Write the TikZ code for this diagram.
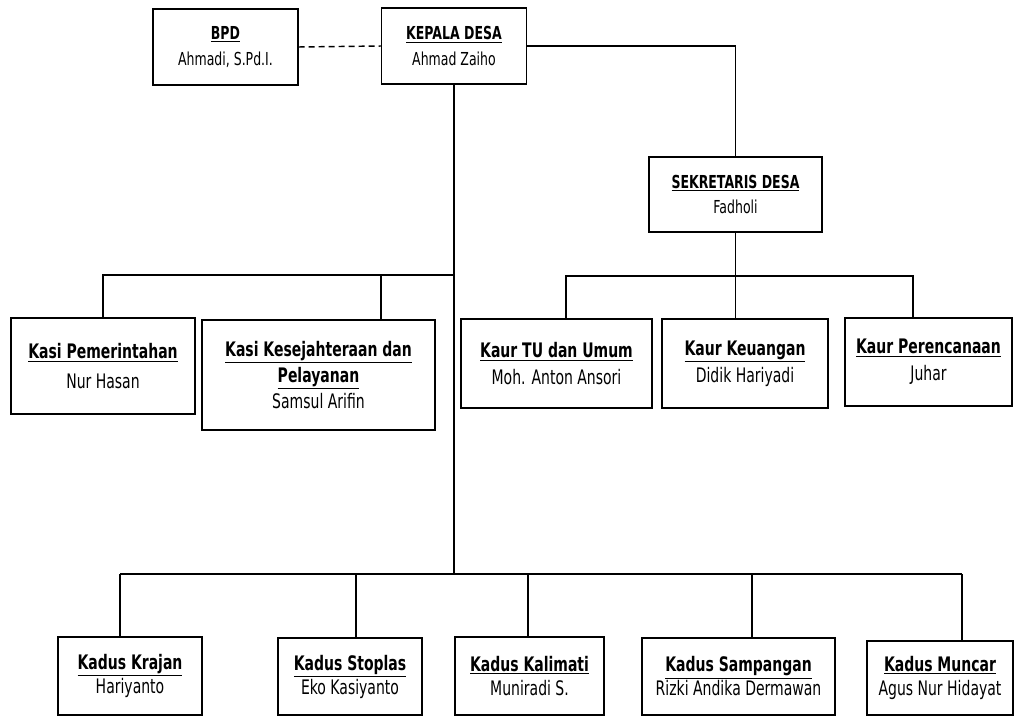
\documentclass[tikz,border=0pt]{standalone}
\usepackage{fontspec}
\setmainfont{DejaVu Sans}[FakeStretch=0.7]
\usepackage{tikz}

\newcommand{\jabatan}[2]{\underline{\textbf{#1}}\\#2}

\begin{document}
\begin{tikzpicture}[x=0.75pt,y=-0.75pt,line width=1.1pt,
    kotak/.style={draw,line width=1.1pt,align=center,inner sep=0pt,
      font=\fontsize{15}{20}\selectfont},
    kotakatas/.style={kotak,font=\fontsize{13.4}{19}\selectfont},
    ukuran/.style 2 args={minimum width=#1*0.75pt,minimum height=#2*0.75pt}]
  \useasboundingbox (0,0) rectangle (1015,718);
  % pimpinan
  \node[kotakatas,ukuran={145}{76}] (bpd) at (225.5,47) {\jabatan{BPD}{Ahmadi, S.Pd.I.}};
  \node[kotakatas,ukuran={145}{76}] (kades) at (454,46) {\jabatan{KEPALA DESA}{Ahmad Zaiho}};
  \node[kotakatas,ukuran={173}{75}] (sekdes) at (735.5,194.5) {\jabatan{SEKRETARIS DESA}{Fadholi}};
  % kasi
  \node[kotak,ukuran={184}{96},font=\fontsize{15}{22}\selectfont] (pemerintahan) at (103,366)
    {\jabatan{Kasi Pemerintahan}{Nur Hasan}};
  \node[kotak,ukuran={233}{110},font=\fontsize{15}{19.5}\selectfont] (kesra) at (318.5,375)
    {\underline{\textbf{Kasi Kesejahteraan dan}}\\\jabatan{Pelayanan}{Samsul Arifin}};
  % kaur
  \node[kotak,ukuran={191}{89}] (kaurtu) at (556.5,363.5)
    {\jabatan{Kaur TU dan Umum}{Moh. Anton Ansori}};
  \node[kotak,ukuran={166}{89}] (keuangan) at (745,363.5)
    {\jabatan{Kaur Keuangan}{Didik Hariyadi}};
  \node[kotak,ukuran={167}{88}] (perencanaan) at (928.5,362)
    {\jabatan{Kaur Perencanaan}{Juhar}};
  % kadus
  \tikzset{kotakbawah/.style={kotak,font=\fontsize{15}{18}\selectfont}}
  \node[kotakbawah,ukuran={144}{78}] (krajan) at (130,676) {\jabatan{Kadus Krajan}{Hariyanto}};
  \node[kotakbawah,ukuran={144}{77}] (stoplas) at (350,676.5) {\jabatan{Kadus Stoplas}{Eko Kasiyanto}};
  \node[kotakbawah,ukuran={149}{78}] (kalimati) at (529.5,676) {\jabatan{Kadus Kalimati}{Muniradi S.}};
  \node[kotakbawah,ukuran={193}{77}] (sampangan) at (738.5,676.5)
    {\jabatan{Kadus Sampangan}{Rizki Andika Dermawan}};
  \node[kotakbawah,ukuran={146}{74}] (muncar) at (940,678) {\jabatan{Kadus Muncar}{Agus Nur Hidayat}};

  \draw[dashed,dash pattern=on 4.5pt off 3pt] (bpd.east) -- (kades.west);
  \draw (kades.east) -| (sekdes.north);

  \coordinate (tapkasi) at (454,275);
  \coordinate (tapkesra) at (381,275);
  \draw (pemerintahan.north) |- (tapkasi);
  \draw (tapkesra) -- (tapkesra |- kesra.north);

  \coordinate (tapkaurL) at (566,276);
  \coordinate (tapkaurR) at (913,276);
  \draw (sekdes.south) -- (sekdes.south |- keuangan.north);
  \draw (tapkaurL |- kaurtu.north) |- (tapkaurR) -- (tapkaurR |- perencanaan.north);

  \foreach \x/\n in {120/krajan,356/stoplas,528/kalimati,752/sampangan,962/muncar}{
    \coordinate (tap\n) at (\x,574);
    \draw (tap\n) -- (tap\n |- \n.north);
  }
  \draw (tapkrajan) -- (tapmuncar);
  \draw (kades.south) -- (kades.south |- tapkrajan);
\end{tikzpicture}
\end{document}
